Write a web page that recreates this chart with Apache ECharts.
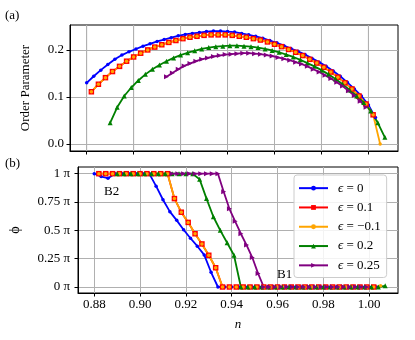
<!DOCTYPE html>
<html>
<head>
<meta charset="utf-8">
<script src="https://cdn.jsdelivr.net/npm/echarts@6/dist/echarts.min.js"></script>
<style>
html, body { margin: 0; padding: 0; background: #fff; }
#chart { width: 415px; height: 340px; }
</style>
</head>
<body>
<div id="chart"></div>
<script>
// n values (filling) for each run
var nBlue = [0.880,0.883,0.886,0.889,0.892,0.895,0.898,0.901,0.904,0.907,0.910,0.913,0.916,0.919,0.922,0.925,0.928,0.931,0.934,0.937,0.940,
             0.943,0.946,0.949,0.952,0.955,0.958,0.961,0.964,0.967,0.970,0.973,0.976,0.979,0.982,0.985,0.988,0.991,0.994,0.997,1.000,1.003];
var nRedOrange = [0.882,0.885,0.888,0.891,0.894,0.897,0.900,0.903,0.906,0.909,0.912,0.915,0.918,0.921,0.924,0.927,0.930,0.933,0.936,0.939,0.942,
                  0.945,0.948,0.951,0.954,0.957,0.960,0.963,0.966,0.969,0.972,0.975,0.978,0.981,0.984,0.987,0.990,0.993,0.996,0.999,1.002,1.005];
var nGreen = [0.890,0.893,0.896,0.899,0.902,0.905,0.908,0.911,0.914,0.917,0.920,0.923,0.926,0.929,0.932,0.935,0.938,0.941,0.944,0.947,
              0.950,0.953,0.956,0.959,0.962,0.965,0.968,0.971,0.974,0.977,0.980,0.983,0.986,0.989,0.992,0.995,0.998,1.001,1.004,1.007];
var nPurple = [0.914,0.9165,0.919,0.9215,0.924,0.9265,0.929,0.9315,0.934,0.9365,0.939,0.9415,0.944,0.9465,0.949,0.9515,0.954,0.9565,
               0.959,0.9615,0.964,0.9665,0.969,0.9715,0.974,0.9765,0.979,0.9815,0.984,0.9865,0.989,0.9915,0.994,0.9965,0.999];

// (a) order parameter
var opBlue = [0.130,0.144,0.157,0.169,0.180,0.189,0.196,0.202,0.208,0.213,0.218,0.222,0.226,0.230,0.233,0.235,0.237,0.239,0.240,0.240,0.239,
              0.238,0.235,0.232,0.229,0.225,0.220,0.215,0.209,0.203,0.197,0.190,0.182,0.174,0.165,0.155,0.144,0.131,0.117,0.102,0.083,0.056];
var opRed = [0.111,0.127,0.141,0.154,0.165,0.176,0.185,0.193,0.200,0.206,0.211,0.216,0.220,0.224,0.227,0.229,0.231,0.232,0.232,0.232,0.231,
             0.229,0.227,0.224,0.221,0.217,0.212,0.207,0.201,0.195,0.188,0.180,0.172,0.163,0.153,0.142,0.130,0.117,0.102,0.085,0.062];
var opOrange = [0.111,0.127,0.141,0.154,0.165,0.176,0.185,0.193,0.200,0.206,0.211,0.216,0.220,0.224,0.227,0.229,0.231,0.232,0.232,0.232,0.231,
                0.229,0.227,0.224,0.221,0.217,0.212,0.207,0.201,0.195,0.188,0.180,0.172,0.163,0.153,0.142,0.130,0.117,0.102,0.085,0.062,0.000];
var opGreen = [0.045,0.078,0.102,0.120,0.135,0.148,0.159,0.168,0.176,0.183,0.189,0.194,0.198,0.202,0.205,0.207,0.208,0.209,0.209,0.208,
               0.207,0.205,0.202,0.199,0.195,0.190,0.185,0.179,0.172,0.165,0.157,0.148,0.138,0.127,0.115,0.102,0.088,0.070,0.045,0.014];
var opPurple = [0.143,0.151,0.159,0.166,0.171,0.176,0.180,0.183,0.186,0.188,0.190,0.191,0.192,0.193,0.193,0.192,0.191,0.189,
                0.187,0.184,0.181,0.178,0.174,0.170,0.165,0.159,0.153,0.146,0.139,0.131,0.123,0.113,0.103,0.091,0.078];

// (b) phase, in units of pi
var phiBlue = [1,0.975,0.96,1,1,1,1,1,1,0.89,0.77,0.665,0.588,0.505,0.43,0.36,0.283,0.13,0,0,0,
               0,0,0,0,0,0,0,0,0,0,0,0,0,0,0,0,0,0,0,0,0];
var phiRed = [1,1,1,1,1,1,1,1,1,1,1,0.78,0.66,0.57,0.47,0.38,0.28,0.17,0,0,0,
              0,0,0,0,0,0,0,0,0,0,0,0,0,0,0,0,0,0,0,0];
var phiOrange = [1,1,1,1,1,1,1,1,1,1,1,0.78,0.66,0.57,0.47,0.38,0.28,0.17,0,0,0,
                 0,0,0,0,0,0,0,0,0,0,0,0,0,0,0,0,0,0,0,0,0.01];
var phiGreen = [1,1,1,1,1,1,1,1,1,1,1,1,0.95,0.78,0.62,0.50,0.39,0.28,0,0,
                0,0,0,0,0,0,0,0,0,0,0,0,0,0,0,0,0,0,0,0.01];
var phiPurple = [1,1,1,1,1,1,1,1,1,0.84,0.69,0.58,0.47,0.37,0.26,0.12,0,0,
                 0,0,0,0,0,0,0,0,0,0,0,0,0,0,0,0,0];

var nTicks = [0.88, 0.90, 0.92, 0.94, 0.96, 0.98, 1.00];
var opTicks = [0, 0.1, 0.2];
var phiTicks = [0, 0.25, 0.5, 0.75, 1];
var legendNames = ['ϵ = 0', 'ϵ = 0.1', 'ϵ = −0.1', 'ϵ = 0.2', 'ϵ = 0.25'];

var FONT = 'Liberation Serif';
var GRIDC = '#b0b0b0';
var OP_MIN = -0.015, OP_MAX = 0.253;

function pairs(n, v) {
    return v.map(function (y, i) { return [n[i], y]; });
}

function line(name, color, symbol, size, n, v, idx, rot) {
    return {
        name: name,
        type: 'line',
        xAxisIndex: idx,
        yAxisIndex: idx,
        z: 3,
        data: pairs(n, v),
        symbol: symbol,
        symbolSize: size,
        symbolRotate: rot || 0,
        showAllSymbol: true,
        clip: false,
        lineStyle: { color: color, width: 1.8 },
        itemStyle: { color: color, borderWidth: 0 },
        emphasis: { disabled: true }
    };
}

function xAxis(idx, showLabel) {
    var ax = {
        type: 'value', gridIndex: idx,
        min: 0.8729, max: 1.0126,
        axisLine: { show: true, onZero: false, lineStyle: { color: '#000', width: 1 } },
        axisTick: { show: true, length: 3.5, customValues: nTicks.slice(), lineStyle: { color: '#000', width: 1 } },
        axisLabel: { show: true, customValues: nTicks.slice(), margin: 5, fontFamily: FONT, fontSize: 13,
                     color: showLabel ? '#000' : 'rgba(0,0,0,0)',
                     formatter: function (v) { return v.toFixed(2); } },
        splitLine: { show: true, lineStyle: { color: GRIDC, width: 1 } }
    };
    if (showLabel) {
        ax.name = 'n';
        ax.nameLocation = 'middle';
        ax.nameGap = 25;
        ax.nameTextStyle = { fontFamily: FONT, fontSize: 13, fontStyle: 'italic', color: '#000' };
    }
    return ax;
}

var myChart = echarts.init(document.getElementById('chart'));

var option = {
    animation: false,
    grid: [
        { left: 70, right: 17, top: 25, height: 126, show: true, borderColor: '#000', borderWidth: 1 },
        { left: 70, right: 17, top: 167, height: 126, show: true, borderColor: '#000', borderWidth: 1 }
    ],
    xAxis: [xAxis(0, false), xAxis(1, true)],
    yAxis: [
        {
            type: 'value', gridIndex: 0, min: OP_MIN, max: OP_MAX,
            name: 'Order Parameter', nameLocation: 'middle', nameGap: 38,
            nameTextStyle: { fontFamily: FONT, fontSize: 13, color: '#000' },
            axisLine: { show: true, onZero: false, lineStyle: { color: '#000', width: 1 } },
            axisTick: { show: true, length: 3.5, customValues: opTicks, lineStyle: { color: '#000' } },
            axisLabel: { customValues: opTicks, margin: 6, fontFamily: FONT, fontSize: 13, color: '#000',
                         formatter: function (v) { return v.toFixed(1); } },
            splitLine: { show: true, lineStyle: { color: GRIDC, width: 1 } }
        },
        {
            type: 'value', gridIndex: 1, min: -0.053, max: 1.059,
            name: 'ϕ', nameLocation: 'middle', nameGap: 56,
            nameTextStyle: { fontFamily: FONT, fontSize: 14, color: '#000' },
            axisLine: { show: true, onZero: false, lineStyle: { color: '#000', width: 1 } },
            axisTick: { show: true, length: 3.5, customValues: phiTicks, lineStyle: { color: '#000' } },
            axisLabel: { customValues: phiTicks, margin: 8, fontFamily: FONT, fontSize: 13, color: '#000',
                         formatter: function (v) { return v + ' π'; } },
            splitLine: { show: true, lineStyle: { color: GRIDC, width: 1 } }
        }
    ],
    legend: {
        data: legendNames,
        left: 294, top: 175,
        orient: 'vertical',
        itemWidth: 29, itemHeight: 6, itemGap: 5,
        padding: [6, 6, 5, 4],
        backgroundColor: 'rgba(255,255,255,0.85)',
        borderColor: '#cccccc', borderWidth: 1, borderRadius: 3,
        selectedMode: false,
        formatter: function (name) { return '{i|ϵ}' + name.slice(1); },
        textStyle: {
            fontFamily: FONT, fontSize: 13, color: '#000', lineHeight: 14.3, padding: [0, 0, 0, 5],
            rich: { i: { fontFamily: FONT, fontSize: 13, fontStyle: 'italic', color: '#000' } }
        }
    },
    series: [
        line(legendNames[0], '#0000ff', 'circle', 3.5, nBlue, opBlue, 0),
        line(legendNames[1], '#ff0000', 'rect', 5.5, nRedOrange, opRed, 0),
        line(legendNames[2], '#ffa500', 'circle', 3.5, nRedOrange, opOrange, 0),
        line(legendNames[3], '#008000', 'triangle', 5, nGreen, opGreen, 0),
        line(legendNames[4], '#800080', 'triangle', 5, nPurple, opPurple, 0, -90),
        line(legendNames[0], '#0000ff', 'circle', 3.5, nBlue, phiBlue, 1),
        line(legendNames[1], '#ff0000', 'rect', 5.5, nRedOrange.slice(0, 41), phiRed, 1),
        line(legendNames[2], '#ffa500', 'circle', 3.5, nRedOrange, phiOrange, 1),
        line(legendNames[3], '#008000', 'triangle', 5, nGreen, phiGreen, 1),
        line(legendNames[4], '#800080', 'triangle', 5, nPurple, phiPurple, 1, -90)
    ]
};

myChart.setOption(option);

// top panel vertical grid lines, placed through the n scale
// (same unrounded placement as the bottom panel's split lines, so they look alike)
var yTop = myChart.convertToPixel({ yAxisIndex: 0 }, OP_MAX);
var yBot = myChart.convertToPixel({ yAxisIndex: 0 }, OP_MIN);
var vLines = nTicks.map(function (t) {
    var x = myChart.convertToPixel({ xAxisIndex: 0 }, t);
    return { type: 'line', z: 1, silent: true,
             shape: { x1: x, y1: yTop, x2: x, y2: yBot },
             style: { stroke: GRIDC, lineWidth: 1 } };
});

// panel letters and the B1 / B2 notes (anchored at their left edge)
var b2 = myChart.convertToPixel({ gridIndex: 1 }, [0.8843, 0.842]);
var b1 = myChart.convertToPixel({ gridIndex: 1 }, [0.9598, 0.11]);
var txt = { fontFamily: FONT, fontSize: 13, fill: '#000', align: 'left', verticalAlign: 'middle' };
myChart.setOption({
    graphic: vLines.concat([
        { type: 'text', left: 5, top: 9, style: { text: '(a)', fontFamily: FONT, fontSize: 13, fill: '#000' } },
        { type: 'text', left: 5, top: 157, style: { text: '(b)', fontFamily: FONT, fontSize: 13, fill: '#000' } },
        { type: 'text', x: b2[0], y: b2[1], style: Object.assign({ text: 'B2' }, txt) },
        { type: 'text', x: b1[0], y: b1[1], style: Object.assign({ text: 'B1' }, txt) }
    ])
});
</script>
</body>
</html>
